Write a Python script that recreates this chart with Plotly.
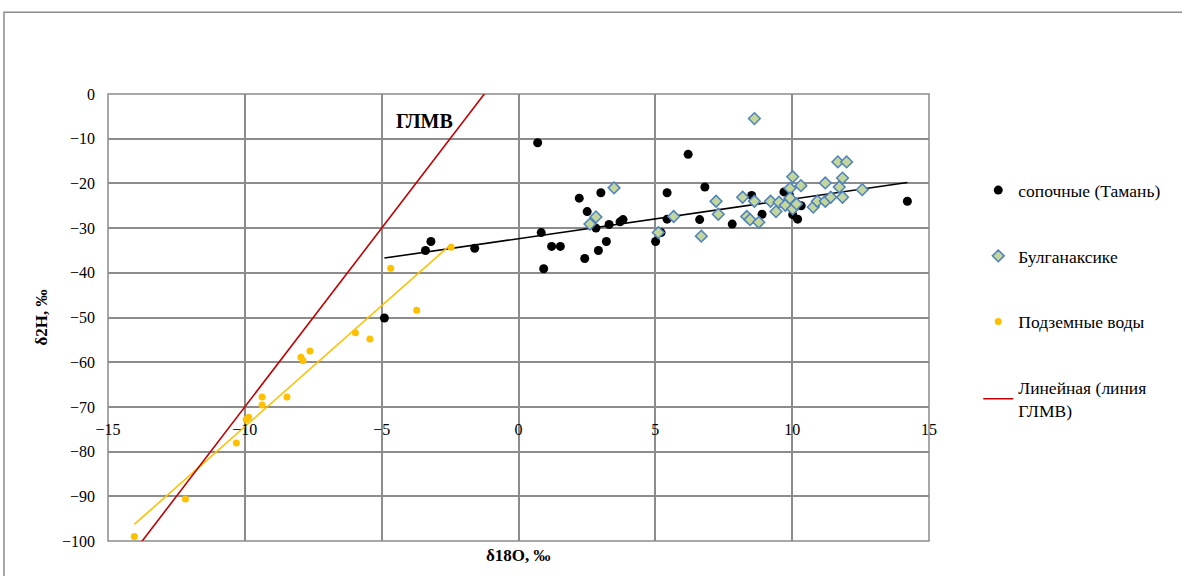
import numpy as np
import plotly.graph_objects as go

# сопочные (Тамань)
sop_x = [-4.9, -3.2, -3.4, -1.6, 0.7, 0.83, 0.92, 1.21, 1.53, 2.22, 2.42, 2.51, 2.83, 2.92, 3.01,
         3.21, 3.31, 3.71, 3.82, 5.01, 5.21, 5.43, 5.43, 6.2, 6.62, 6.81, 7.81, 8.52, 8.9, 9.7,
         9.9, 10.02, 10.2, 10.33, 14.21]
sop_y = [-50.1, -33.0, -35.0, -34.5, -10.9, -31.0, -39.1, -34.1, -34.1, -23.3, -36.8, -26.3, -30.0,
         -35.0, -22.1, -33.0, -29.2, -28.6, -28.1, -33.0, -31.0, -22.1, -28.0, -13.5, -28.1, -20.8,
         -29.1, -22.7, -26.9, -21.9, -22.6, -27.0, -28.0, -25.0, -24.0]

# Булганаксике
bul_x = [2.61, 2.83, 3.49, 5.11, 5.67, 6.68, 7.22, 7.30, 8.19, 8.34, 8.46, 8.62, 8.62, 8.78, 9.21,
         9.41, 9.52, 9.75, 9.92, 9.92, 10.02, 10.02, 10.16, 10.32, 10.77, 10.92, 11.21, 11.21, 11.41,
         11.67, 11.72, 11.84, 11.84, 11.99, 12.56]
bul_y = [-29.1, -27.5, -21.0, -31.0, -27.4, -31.8, -24.0, -26.9, -23.1, -27.4, -28.1, -5.5, -24.0,
         -28.7, -24.0, -26.3, -24.2, -24.9, -21.1, -23.3, -18.5, -25.7, -24.6, -20.5, -25.3, -24.0,
         -19.9, -24.0, -23.1, -15.2, -20.8, -18.8, -23.1, -15.2, -21.4]

# Подземные воды
gw_x = [-14.04, -12.17, -10.31, -9.86, -9.95, -9.37, -9.37, -8.46, -7.95, -7.87, -7.62, -5.96,
        -5.43, -4.67, -3.72, -2.46]
gw_y = [-99.0, -90.6, -78.1, -72.3, -72.8, -69.6, -67.8, -67.8, -58.9, -59.7, -57.5, -53.4,
        -54.8, -39.0, -48.4, -34.3]

# линия ГЛМВ (Global Meteoric Water Line: dH = 8*dO + 10)
gmwl_x = [-15, 0]
gmwl_slope, gmwl_intercept = 8, 10

x_ticks = [-15, -10, -5, 0, 5, 10, 15]
y_ticks = [0, -10, -20, -30, -40, -50, -60, -70, -80, -90, -100]

FONT = "Times New Roman, Liberation Serif, DejaVu Serif, serif"
GRID = "#8c8c8c"


def trend(xs, ys):
    k, b = np.polyfit(xs, ys, 1)
    xx = np.array([min(xs), max(xs)])
    return xx, k * xx + b


fig = go.Figure()

# trend lines (not in legend)
tx, ty = trend(sop_x, sop_y)
fig.add_trace(go.Scatter(x=tx, y=ty, mode="lines", line=dict(color="black", width=1.6),
                         showlegend=False, hoverinfo="skip"))
tx, ty = trend(gw_x, gw_y)
fig.add_trace(go.Scatter(x=tx, y=ty, mode="lines", line=dict(color="#ffc000", width=1.6),
                         showlegend=False, hoverinfo="skip"))

# scatter series
fig.add_trace(go.Scatter(x=sop_x, y=sop_y, mode="markers", name="сопочные (Тамань)",
                         legendgroup="a",
                         marker=dict(color="black", size=9, symbol="circle")))
fig.add_trace(go.Scatter(x=bul_x, y=bul_y, mode="markers", name="Булганаксике",
                         legendgroup="b",
                         marker=dict(color="#c3d69b", size=9, symbol="diamond",
                                     line=dict(color="#4f81bd", width=1.5))))
fig.add_trace(go.Scatter(x=gw_x, y=gw_y, mode="markers", name="Подземные воды",
                         legendgroup="c",
                         marker=dict(color="#ffc000", size=7, symbol="circle")))

gx = np.array(gmwl_x, dtype=float)
fig.add_trace(go.Scatter(x=gx, y=gmwl_slope * gx + gmwl_intercept, mode="lines",
                         name="Линейная (линия<br>ГЛМВ)", legendgroup="d",
                         line=dict(color="#c00000", width=1.6)))

fig.add_annotation(x=-3.45, y=-6, text="<b>ГЛМВ</b>", showarrow=False,
                   font=dict(family=FONT, size=20, color="black"))
fig.add_annotation(x=0, y=-0.006, xref="x", yref="paper", text="<b>δ18O, ‰</b>",
                   showarrow=False, yanchor="top",
                   font=dict(family=FONT, size=17, color="black"))

# plot-area border
fig.add_shape(type="rect", xref="paper", yref="paper", x0=0, x1=1, y0=0, y1=1,
              line=dict(color=GRID, width=1.5), fillcolor="rgba(0,0,0,0)", layer="below")
# outer chart frame
fig.add_shape(type="rect", xref="paper", yref="paper", x0=-0.1267, x1=1.33, y0=-0.2, y1=1.183,
              line=dict(color=GRID, width=1.5), fillcolor="rgba(0,0,0,0)", layer="below")

fig.update_layout(
    width=1182, height=576,
    margin=dict(l=108, r=253, t=94, b=35),
    paper_bgcolor="white", plot_bgcolor="white",
    font=dict(family=FONT, size=16, color="black"),
    xaxis=dict(range=[-15, 15], tickvals=x_ticks, showgrid=True, gridcolor=GRID,
               gridwidth=1.5, zeroline=False, showline=False, ticks="",
               anchor="free", position=0.3, ticklabelstandoff=11,
               tickfont=dict(family=FONT, size=16)),
    yaxis=dict(range=[-100, 0], tickvals=y_ticks, showgrid=True, gridcolor=GRID,
               gridwidth=1.5, zeroline=False, showline=False, ticks="",
               ticklabelstandoff=12, tickfont=dict(family=FONT, size=16),
               title=dict(text="<b>δ2H, ‰</b>", font=dict(family=FONT, size=17), standoff=10)),
    legend=dict(x=1.06, y=0.825, xanchor="left", yanchor="top", traceorder="grouped",
                tracegroupgap=40, font=dict(family=FONT, size=17.5), bgcolor="rgba(0,0,0,0)"),
    showlegend=True,
)

fig.write_html("out.html")
